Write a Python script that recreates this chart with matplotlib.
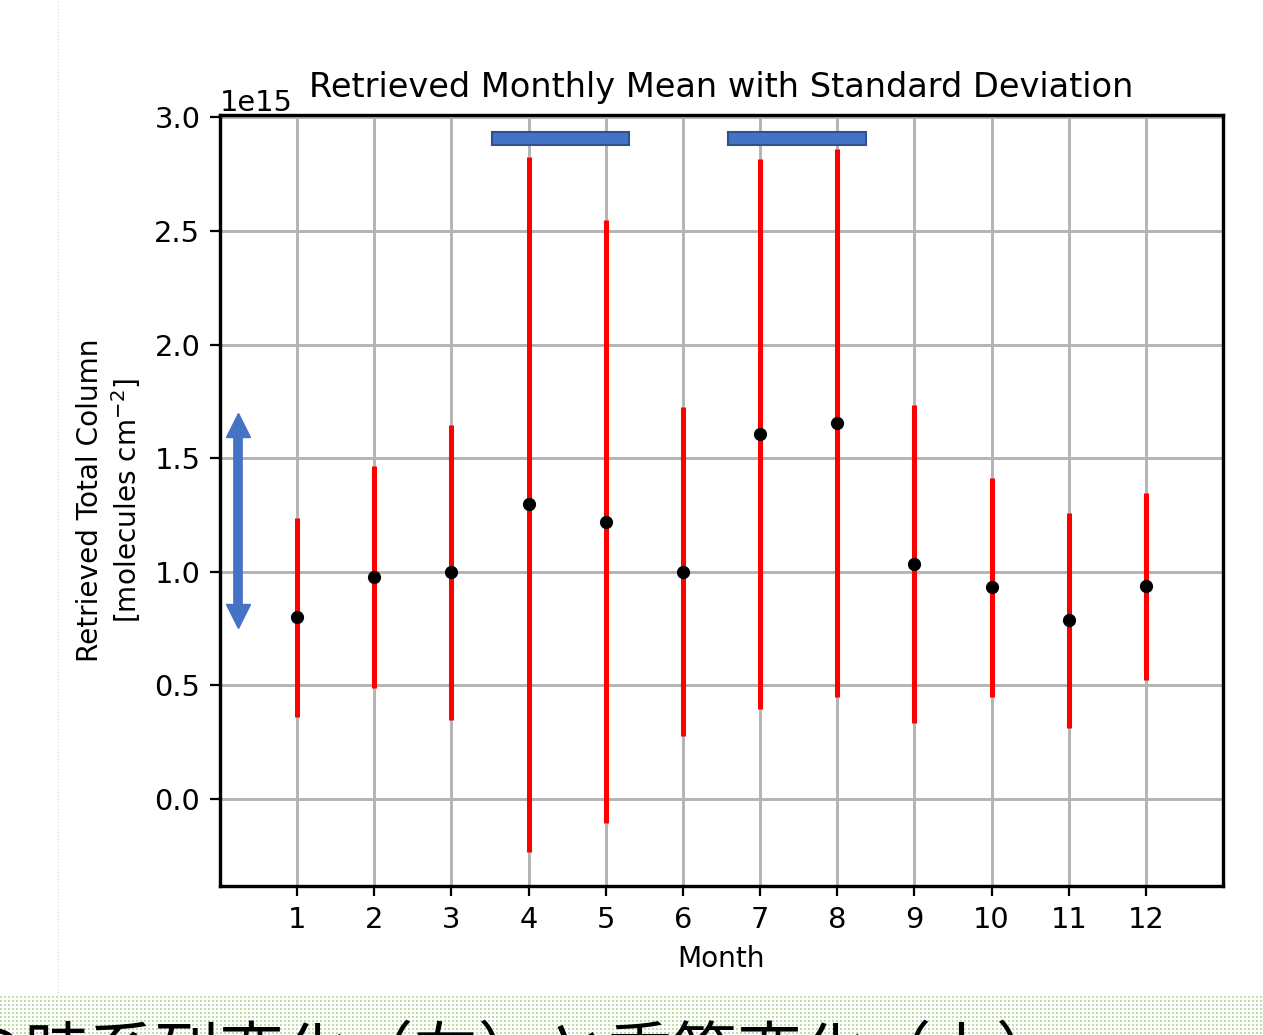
import numpy as np
import matplotlib

matplotlib.use("Agg")
import matplotlib.pyplot as plt
from matplotlib.lines import Line2D
from matplotlib.patches import Rectangle

# Monthly retrieved total column (molecules cm^-2)
months = np.arange(1, 13)
mean_col = np.array([0.800, 0.977, 0.997, 1.297, 1.221, 1.001,
                     1.607, 1.655, 1.035, 0.931, 0.786, 0.936]) * 1e15
std_col = np.array([0.438, 0.489, 0.649, 1.530, 1.327, 0.724,
                    1.211, 1.206, 0.700, 0.482, 0.474, 0.411]) * 1e15

# highlighted month spans (x from, x to) drawn as bars above the data
spans = [(3.52, 5.30), (6.59, 8.37)]
caption = "の時系列変化（左）と季節変化（上）"

W, H, DPI = 1263, 1035, 100
S = 2.02  # scale relative to default matplotlib sizes
BLUE = "#4472C4"
GREEN = "#c6e0b4"

plt.rcParams["font.family"] = ["DejaVu Sans"]
fig = plt.figure(figsize=(W / DPI, H / DPI), dpi=DPI)
fig.patch.set_facecolor("white")
ax = fig.add_axes((220 / W, 1 - 886 / H, (1223 - 220) / W, (886 - 115) / H))

ax.grid(True, color="#b4b4b4", linewidth=1.05 * S)
ax.set_axisbelow(True)
ax.errorbar(months, mean_col, yerr=std_col, fmt="o", color="black",
            ecolor="red", elinewidth=1.8 * S, markersize=4.2 * S, zorder=3)

ax.set_xlim(0, 13)
ax.set_ylim(-0.383e15, 3.01e15)
ax.set_xticks(months)
ax.set_yticks(np.arange(0, 3.01, 0.5) * 1e15)
ax.tick_params(labelsize=10.3 * S, length=3.5 * S, width=0.8 * S, pad=3.5 * S)
ax.yaxis.get_offset_text().set_fontsize(10.3 * S)
ax.yaxis.get_offset_text().set_y(1.005)
for sp in ax.spines.values():
    sp.set_linewidth(1.2 * S)

ax.set_title("Retrieved Monthly Mean with Standard Deviation", fontsize=12 * S, pad=6.5 * S)
ax.set_xlabel("Month", fontsize=10 * S, labelpad=4 * S)
ax.set_ylabel("Retrieved Total Column\n[molecules cm$^{-2}$]", fontsize=10 * S, labelpad=4 * S)

# bars marking the months with large spread
for x0, x1 in spans:
    ax.add_patch(Rectangle((x0, 2.878e15), x1 - x0, 0.058e15, facecolor=BLUE,
                           edgecolor="#2F528F", linewidth=1.5, zorder=4, clip_on=False))

# double-headed range arrow at the left of the plot
ax.plot([0.233, 0.233], [0.805e15, 1.646e15], color=BLUE, linewidth=7,
        solid_capstyle="butt", zorder=4)
ax.plot([0.233], [1.646e15], marker="^", markersize=17, color=BLUE, zorder=4)
ax.plot([0.233], [0.805e15], marker="v", markersize=17, color=BLUE, zorder=4)

# dotted page strip along the bottom
strip_h = H - 996
pattern = np.ones((strip_h, W, 3))
yy, xx = np.mgrid[0:strip_h, 0:W]
dots = ((yy % 4) < 2) & ((xx % 4) < 2)
pattern[dots] = np.array([190, 222, 170]) / 255
fig.figimage(pattern, xo=0, yo=0, zorder=0)

fig.add_artist(Line2D([58 / W, 58 / W], [strip_h / H, 1], color=GREEN,
                      linewidth=0.8, linestyle=(0, (1, 2)), transform=fig.transFigure))

fig.text(-40 / W, 1 - 1075 / H, caption, fontsize=46.6, va="baseline", ha="left",
         family=["Noto Sans CJK JP", "DejaVu Sans"], zorder=3)

fig.savefig("out.png", dpi=DPI)
